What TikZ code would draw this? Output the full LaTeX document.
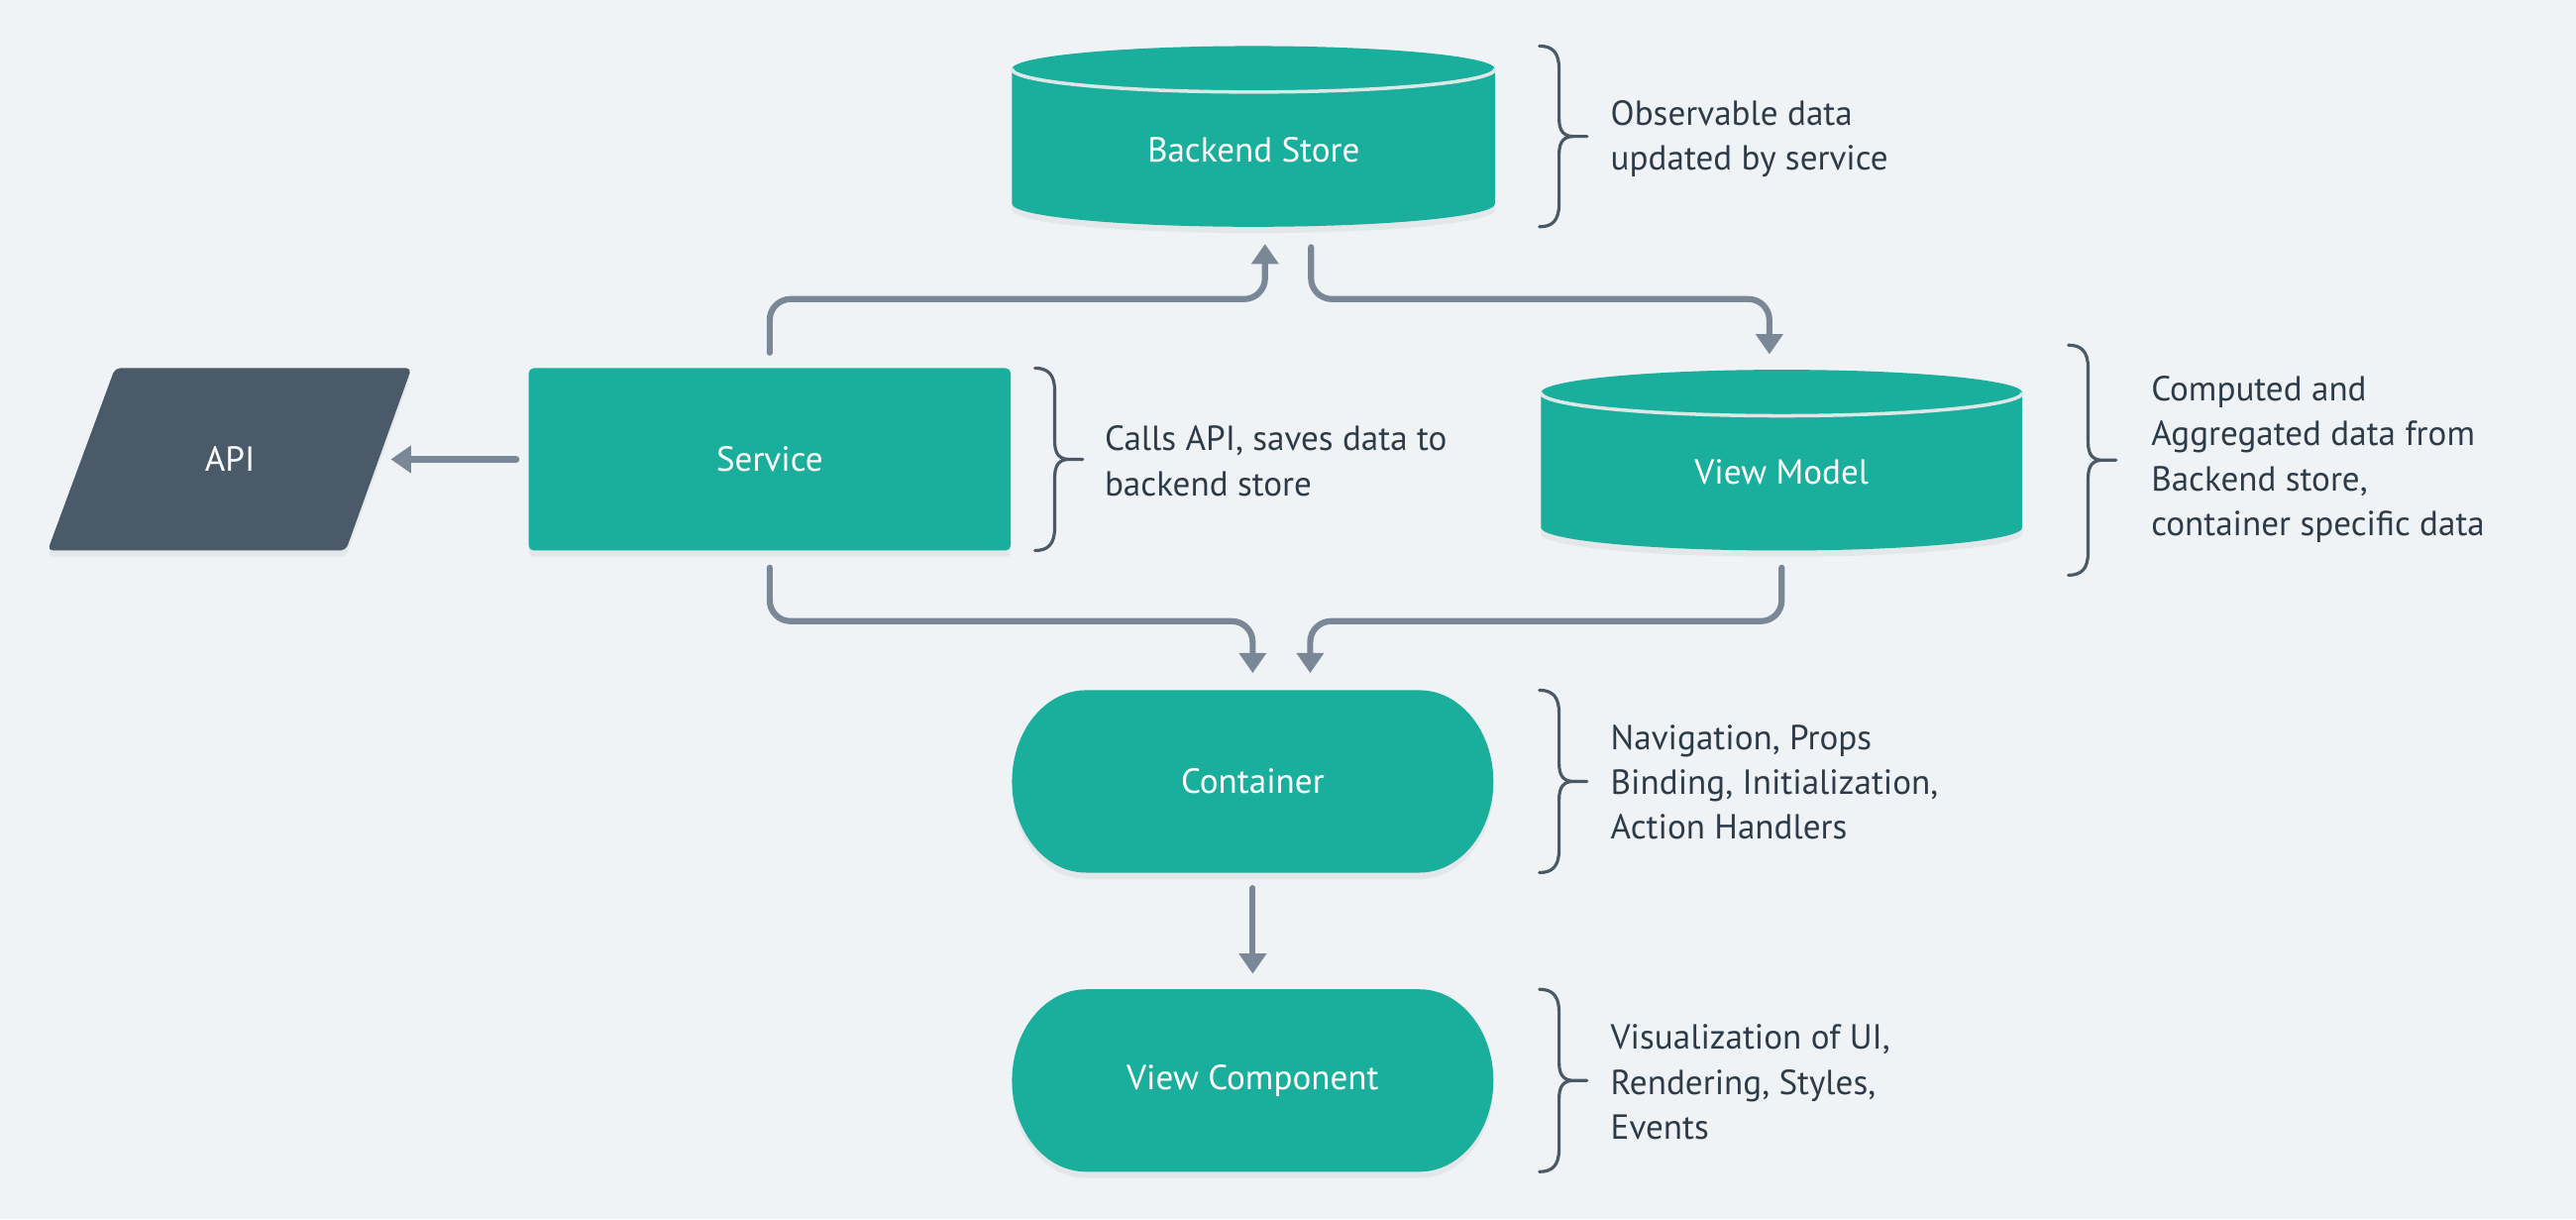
\documentclass[tikz,border=0pt]{standalone}
\usepackage{fontspec}
\setmainfont{PT Sans}
\usetikzlibrary{arrows.meta,shadows,calc}
\newdimen\pxu \pxu=0.016582cm
\definecolor{bgc}{HTML}{F0F3F6}
\definecolor{tealc}{HTML}{1AAE9C}
\definecolor{apic}{HTML}{4A5A68}
\definecolor{arrc}{HTML}{7A8796}
\definecolor{txtc}{HTML}{2D3B48}
\definecolor{bracec}{HTML}{4B5966}
\definecolor{rimc}{HTML}{DCE8E6}
% cylinder: cx, rx, top-centre y, bottom-centre y
\newcommand\drawcyl[4]{%
  \fill[tealc, softshadow] ({#1-#2},#3) -- ({#1-#2},#4)
    arc[start angle=180,end angle=360,x radius=#2*\pxu,y radius=14*\pxu]
    -- ({#1+#2},#3)
    arc[start angle=0,end angle=180,x radius=#2*\pxu,y radius=14*\pxu] -- cycle;
  \draw[rimc, line width=1pt] ({#1-#2},#3)
    arc[start angle=180,end angle=360,x radius=#2*\pxu,y radius=14*\pxu];}
% stadium: x0, x1, y0, y1, rx, ry
\newcommand\drawstad[6]{%
  \fill[tealc, softshadow] ({#1+#5},#3) -- ({#2-#5},#3)
    arc[start angle=90,end angle=-90,x radius=#5*\pxu,y radius=#6*\pxu]
    -- ({#1+#5},#4)
    arc[start angle=270,end angle=90,x radius=#5*\pxu,y radius=#6*\pxu] -- cycle;}
% brace: x of ends, top y, bottom y
\newcommand\drawbrace[3]{%
  \pgfmathsetmacro\bxv{#1+12}\pgfmathsetmacro\bym{(#2+#3)/2}%
  \draw[bracestyle] (#1,#2) .. controls ({#1+8},#2) and (\bxv,{#2+4}) .. (\bxv,{#2+14})
    -- (\bxv,{\bym-11}) .. controls (\bxv,{\bym-3}) and ({\bxv+3},\bym) .. ({\bxv+9},\bym)
    -- ({\bxv+17},\bym) -- ({\bxv+9},\bym)
    .. controls ({\bxv+3},\bym) and (\bxv,{\bym+3}) .. (\bxv,{\bym+11})
    -- (\bxv,{#3-14}) .. controls (\bxv,{#3-4}) and ({#1+8},#3) .. (#1,#3);}
\begin{document}
\begin{tikzpicture}[x={(0.016582cm,0)}, y={(0,-0.016582cm)},
  softshadow/.style={drop shadow={shadow xshift=0pt, shadow yshift=-1.8pt, opacity=0.10}},
  boxtext/.style={text=white, font=\fontsize{10}{12}\selectfont, inner sep=0pt,
    minimum width=294*\pxu, minimum height=110*\pxu},
  arr/.style={draw=arrc, line width=1.75pt, rounded corners=6pt, line cap=round,
    -{Triangle[width=7.6pt,length=5.8pt]}},
  bracestyle/.style={draw=bracec, line width=0.9pt, line cap=round, line join=round},
  note/.style={text=txtc, font=\fontsize{10}{12.9}\selectfont, align=left, anchor=west, inner sep=0pt}]
\fill[bgc] (0,0) rectangle (1568,742);
\useasboundingbox (0,0) rectangle (1568,742);

% shapes
\drawcyl{763}{147}{42}{124}
\drawcyl{1084.5}{146.5}{239}{321}
\fill[apic, rounded corners=1.5pt, softshadow] (70,224) -- (250.5,224) -- (210.5,335) -- (29,335) -- cycle;
\drawstad{616}{909}{420}{531}{45}{55.5}
\drawstad{616}{909}{602}{713}{45}{55.5}

% nodes (centred on their text; south anchors on the shape bottoms)
\node[boxtext, minimum height=94*\pxu] (bs) at (763,91) {Backend Store};
\node[boxtext, minimum height=96*\pxu] (vm) at (1084.5,287) {View Model};
\node[boxtext, fill=tealc, rounded corners=1.5pt, softshadow,
  minimum width=293.5*\pxu, minimum height=111*\pxu] (svc) at (468.5,279.5) {Service};
\node[boxtext, minimum width=181*\pxu, minimum height=111*\pxu] (api) at (140,279.5) {API};
\node[boxtext, minimum height=111*\pxu] (cont) at (762.5,475.5) {Container};
\node[boxtext, minimum height=111*\pxu] (vc) at (762.5,657.5) {View Component};

% levels
\coordinate (lvlA) at (0,182);
\coordinate (lvlB) at (0,378);

% connectors
\draw[arr, shorten <=9*\pxu, shorten >=10*\pxu]
  (svc.north) -- (svc.north |- lvlA) -| ([xshift=7*\pxu]bs.south);
\draw[arr, shorten <=12*\pxu, shorten >=23*\pxu]
  ([xshift=35*\pxu]bs.south) -- ([xshift=35*\pxu]bs.south |- lvlA) -| ([xshift=-7.5*\pxu]vm.north);
\draw[arr, shorten <=10*\pxu, shorten >=10*\pxu]
  (svc.south) -- (svc.south |- lvlB) -| (cont.north);
\draw[arr, shorten <=10*\pxu, shorten >=10*\pxu]
  (vm.south) -- (vm.south |- lvlB) -| ([xshift=35*\pxu]cont.north);
\draw[arr, shorten <=9*\pxu, shorten >=9*\pxu] (cont.south) -- (vc.north);
\draw[arr, shorten <=7*\pxu, shorten >=7*\pxu] (svc.west) -- (api.east);

% braces
\drawbrace{937}{28}{138}
\drawbrace{630}{224}{335}
\drawbrace{1259}{210}{350}
\drawbrace{937}{420}{531}
\drawbrace{937}{602}{713}

% notes
\node[note] (n1) at (980,84.5) {Observable data\\updated by service};
\node[note] (n2) at (672,280.5) {Calls API, saves data to\\backend store};
\node[note] (n3) at (1309,279.5) {Computed and\\Aggregated data from\\Backend store,\\container specific data};
\node[note] (n4) at (980,476) {Navigation, Props\\Binding, Initialization,\\Action Handlers};
\node[note] (n5) at (980,658.5) {Visualization of UI,\\Rendering, Styles,\\Events};
\end{tikzpicture}
\end{document}
